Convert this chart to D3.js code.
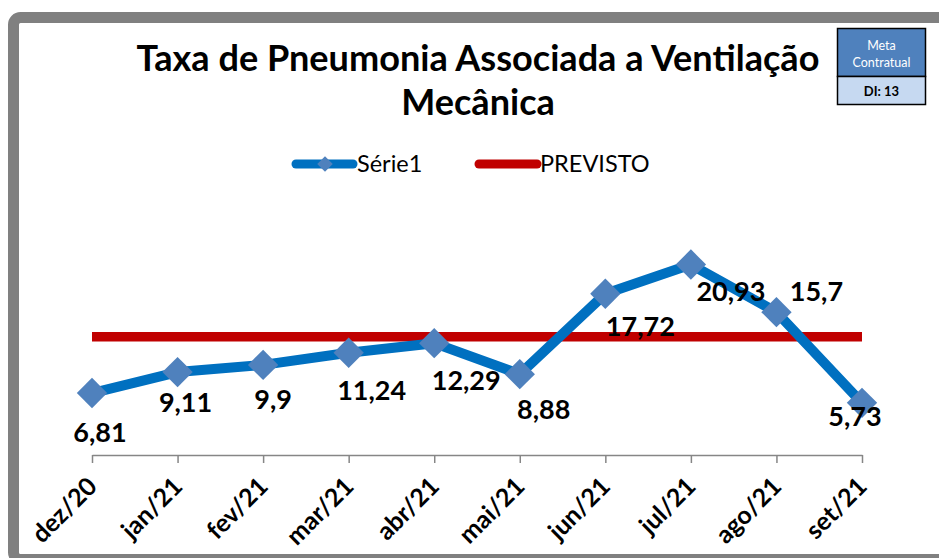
<!DOCTYPE html>
<html>
<head>
<meta charset="utf-8">
<script src="https://cdn.jsdelivr.net/npm/d3@7"></script>
<style>
  html, body { margin: 0; padding: 0; background: #fff; }
  svg { display: block; }
  text { font-family: Lato, "Open Sans", sans-serif; }
</style>
</head>
<body>
<svg id="chart" width="939" height="558"></svg>
<script>
// Monthly VAP rate
const months = ["dez/20", "jan/21", "fev/21", "mar/21", "abr/21", "mai/21", "jun/21", "jul/21", "ago/21", "set/21"];
const serie1 = [6.81, 9.11, 9.9, 11.24, 12.29, 8.88, 17.72, 20.93, 15.7, 5.73];
const previsto = 13;
const labelText = ["6,81", "9,11", "9,9", "11,24", "12,29", "8,88", "17,72", "20,93", "15,7", "5,73"];
// hand-placed label offsets from each point [dx, dy]
const labelNudge = [[8, 49], [8, 40], [10, 44], [23, 47], [32, 47], [24, 45], [35, 42], [40, 36], [40, -11], [-7, 23]];

const svg = d3.select("#chart");

// outer frame
svg.append("rect")
  .attr("x", 13.5).attr("y", 17.5)
  .attr("width", 940).attr("height", 542)
  .attr("rx", 7)
  .attr("fill", "#fff")
  .attr("stroke", "#808080")
  .attr("stroke-width", 11);

const x = d3.scalePoint().domain(months).range([92, 862]);
const y = d3.scaleLinear().domain([0, 25]).range([455, 227.5]);

// title
const title = svg.append("text")
  .attr("text-anchor", "middle")
  .attr("font-weight", "bold")
  .attr("fill", "#000");
title.append("tspan").attr("x", 478).attr("y", 71).text("Taxa de Pneumonia Associada a Ventilação");
title.append("tspan").attr("x", 478).attr("y", 115).text("Mecânica");
title.attr("font-size", 31);
const w1 = title.select("tspan").node().getComputedTextLength();
title.attr("font-size", 31 * 683 / w1);

// legend
const leg = svg.append("g");
leg.append("line").attr("x1", 296).attr("x2", 353).attr("y1", 164).attr("y2", 164)
  .attr("stroke", "#0070C0").attr("stroke-width", 9).attr("stroke-linecap", "round");
leg.append("path").attr("d", d3.symbol(d3.symbolSquare, 120)())
  .attr("transform", "translate(325,164) rotate(45)").attr("fill", "#4F81BD");
leg.append("text").attr("x", 357).attr("y", 172).attr("font-size", 23.5).text("Série1");
leg.append("line").attr("x1", 479).attr("x2", 537).attr("y1", 164).attr("y2", 164)
  .attr("stroke", "#C00000").attr("stroke-width", 9).attr("stroke-linecap", "round");
leg.append("text").attr("x", 540).attr("y", 172).attr("font-size", 23.5).text("PREVISTO");

// x axis
const xAxis = svg.append("g")
  .attr("transform", `translate(0,${y(0)})`)
  .call(d3.axisBottom(x).tickSizeInner(8).tickSizeOuter(0));
xAxis.select(".domain").attr("stroke", "#868686").attr("stroke-width", 1.5);
xAxis.selectAll(".tick line").attr("stroke", "#868686").attr("stroke-width", 1.5);
xAxis.selectAll(".tick text")
  .attr("font-family", "Lato, sans-serif")
  .attr("font-size", 25)
  .attr("font-weight", "bold")
  .attr("fill", "#000")
  .attr("text-anchor", "end")
  .attr("x", 0).attr("y", 0)
  .attr("dy", null)
  .attr("transform", "translate(6,33) rotate(-45)");

// target line
svg.append("line")
  .attr("x1", x(months[0])).attr("x2", x(months[months.length - 1]))
  .attr("y1", y(previsto)).attr("y2", y(previsto))
  .attr("stroke", "#C00000").attr("stroke-width", 9.5);

// series line
const line = d3.line().x((d, i) => x(months[i])).y(d => y(d));
svg.append("path").datum(serie1)
  .attr("d", line)
  .attr("fill", "none")
  .attr("stroke", "#0070C0")
  .attr("stroke-width", 10)
  .attr("stroke-linejoin", "round");

// markers
svg.selectAll(".marker").data(serie1).enter().append("path")
  .attr("class", "marker")
  .attr("d", d3.symbol(d3.symbolSquare, 460)())
  .attr("transform", (d, i) => `translate(${x(months[i])},${y(d)}) rotate(45)`)
  .attr("fill", "#4F81BD");

// data labels
svg.selectAll(".lbl").data(serie1).enter().append("text")
  .attr("class", "lbl")
  .attr("x", (d, i) => x(months[i]) + labelNudge[i][0])
  .attr("y", (d, i) => y(d) + labelNudge[i][1])
  .attr("text-anchor", "middle")
  .attr("font-size", 27)
  .attr("font-weight", "bold")
  .attr("fill", "#000")
  .text((d, i) => labelText[i]);

// contract target box
const box = svg.append("g");
box.append("rect").attr("x", 837.5).attr("y", 28.5).attr("width", 88).attr("height", 48)
  .attr("fill", "#4F81BD").attr("stroke", "#000").attr("stroke-width", 1.5);
box.append("rect").attr("x", 837.5).attr("y", 76.5).attr("width", 88).attr("height", 28)
  .attr("fill", "#C6D9F1").attr("stroke", "#000").attr("stroke-width", 1.5);
box.append("text").attr("x", 881.5).attr("y", 50).attr("text-anchor", "middle")
  .attr("font-size", 12.5).attr("fill", "#fff").text("Meta");
box.append("text").attr("x", 881.5).attr("y", 67).attr("text-anchor", "middle")
  .attr("font-size", 12.5).attr("fill", "#fff").text("Contratual");
box.append("text").attr("x", 881.5).attr("y", 96).attr("text-anchor", "middle")
  .attr("font-size", 13).attr("font-weight", "bold").attr("fill", "#000").text("DI: " + previsto);
</script>
</body>
</html>
